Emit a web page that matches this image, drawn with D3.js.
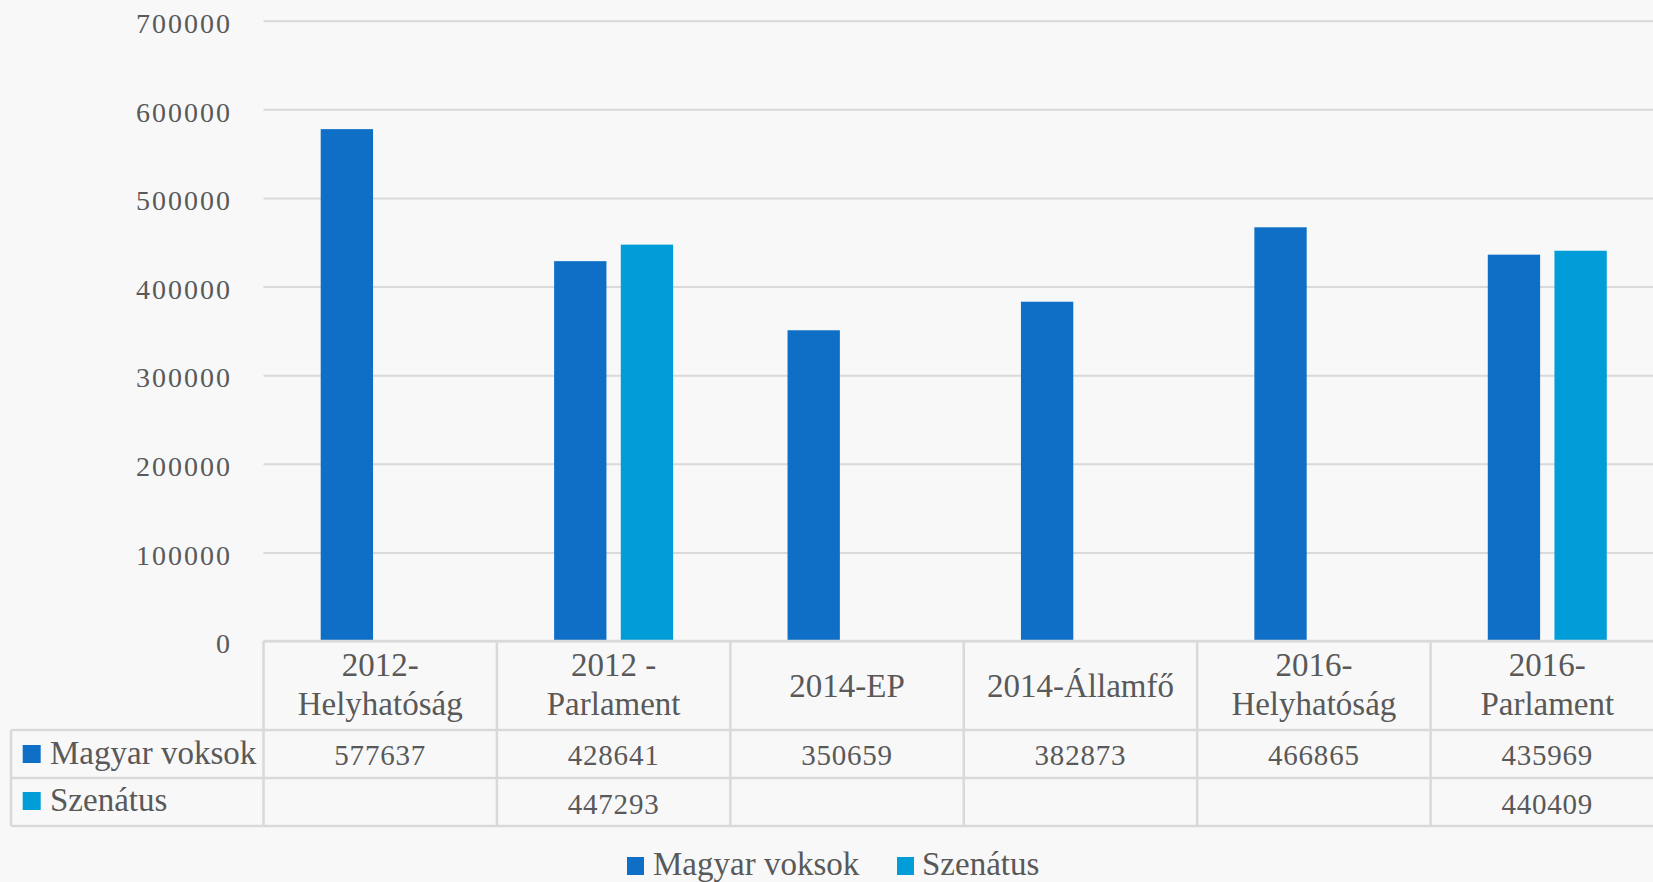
<!DOCTYPE html>
<html>
<head>
<meta charset="utf-8">
<script src="https://cdn.jsdelivr.net/npm/d3@7/dist/d3.min.js"></script>
<style>
  html, body { margin: 0; padding: 0; background: #f8f8f8; }
  svg { display: block; }
  text { font-family: "Liberation Serif", "DejaVu Serif", serif; fill: #595959; }
</style>
</head>
<body>
<svg id="chart" width="1653" height="882"></svg>
<script>
// ---- data ----
const categories = ["2012-\nHelyhatóság", "2012 -\nParlament", "2014-EP", "2014-Államfő", "2016-\nHelyhatóság", "2016-\nParlament"];
const seriesNames = ["Magyar voksok", "Szenátus"];
const magyarVoksok = [577637, 428641, 350659, 382873, 466865, 435969];
const szenatus = [null, 447293, null, null, null, 440409];
const yTicks = [0, 100000, 200000, 300000, 400000, 500000, 600000, 700000];
const colors = ["#0F6FC6", "#009DD9"];

const seriesValues = [magyarVoksok, szenatus];

const svg = d3.select("#chart");
const W = 1653, H = 882;

svg.append("rect").attr("width", W).attr("height", H).attr("fill", "#f8f8f8");

const plotLeft = 263.5, plotRight = 1664;
const yTop = 20.7, yBase = 641;

const x0 = d3.scaleBand().domain(categories).range([plotLeft, plotRight]).paddingInner(0).paddingOuter(0);
const x1 = d3.scaleBand().domain(seriesNames).range([57.2, 176.2]).paddingInner(0.215).paddingOuter(0);
const y = d3.scaleLinear().domain([0, 700000]).range([yBase, yTop]);
const color = d3.scaleOrdinal().domain(seriesNames).range(colors);

// gridlines
const grid = svg.append("g")
  .attr("transform", `translate(${plotLeft},0)`)
  .call(d3.axisLeft(y).tickValues(yTicks).tickSize(-(W - plotLeft)).tickFormat(""));
grid.select(".domain").remove();
grid.selectAll(".tick line").attr("stroke", "#d9d9d9").attr("stroke-width", 2);

// y axis labels
const yAxis = svg.append("g")
  .attr("transform", `translate(232,0)`)
  .call(d3.axisLeft(y).tickValues(yTicks).tickSize(0).tickPadding(0).tickFormat(d3.format("d")));
yAxis.select(".domain").remove();
yAxis.selectAll(".tick text")
  .attr("font-size", 28)
  .attr("letter-spacing", 2)
  .attr("dy", "0.42em")
  .attr("fill", "#595959")
  .style("font-family", "Liberation Serif, serif");

// bars
const rows = categories.map((c, i) => ({ cat: c, vals: seriesNames.map((s, j) => ({ s, v: seriesValues[j][i] })) }));
const groups = svg.append("g").selectAll("g").data(rows).join("g")
  .attr("transform", d => `translate(${x0(d.cat)},0)`);
groups.selectAll("rect").data(d => d.vals.filter(v => v.v != null)).join("rect")
  .attr("x", d => x1(d.s))
  .attr("width", x1.bandwidth())
  .attr("y", d => y(d.v))
  .attr("height", d => yBase - y(d.v))
  .attr("fill", d => color(d.s));

// data table
const tableLeft = 11;
const rowTops = [641, 730, 778, 826];
const lineColor = "#d9d9d9";
const tg = svg.append("g");
tg.append("line").attr("x1", plotLeft).attr("x2", W).attr("y1", rowTops[0]).attr("y2", rowTops[0]).attr("stroke", lineColor).attr("stroke-width", 2.5);
[1, 2, 3].forEach(k => {
  tg.append("line").attr("x1", tableLeft).attr("x2", W).attr("y1", rowTops[k]).attr("y2", rowTops[k]).attr("stroke", lineColor).attr("stroke-width", 2.5);
});
tg.append("line").attr("x1", tableLeft).attr("x2", tableLeft).attr("y1", rowTops[1]).attr("y2", rowTops[3]).attr("stroke", lineColor).attr("stroke-width", 2.5);
categories.forEach(c => {
  tg.append("line").attr("x1", x0(c)).attr("x2", x0(c)).attr("y1", rowTops[0]).attr("y2", rowTops[3]).attr("stroke", lineColor).attr("stroke-width", 2.5);
});

// header labels
categories.forEach(c => {
  const lines = c.split("\n");
  const cx = x0(c) + x0.bandwidth() / 2;
  const t = tg.append("text").attr("text-anchor", "middle").attr("font-size", 33);
  if (lines.length === 2) {
    t.append("tspan").attr("x", cx).attr("y", 676).text(lines[0]);
    t.append("tspan").attr("x", cx).attr("y", 715).text(lines[1]);
  } else {
    t.append("tspan").attr("x", cx).attr("y", 697).text(lines[0]);
  }
});

// series rows
const rowBaselines = [764, 811];
const valueBaselines = [765, 814];
seriesNames.forEach((s, j) => {
  tg.append("rect").attr("x", 22.7).attr("y", rowBaselines[j] - 19).attr("width", 18).attr("height", 18).attr("fill", colors[j]);
  tg.append("text").attr("x", 50).attr("y", rowBaselines[j]).attr("font-size", 33).text(s);
  categories.forEach((c, i) => {
    const v = seriesValues[j][i];
    if (v == null) return;
    tg.append("text").attr("x", x0(c) + x0.bandwidth() / 2).attr("y", valueBaselines[j])
      .attr("text-anchor", "middle").attr("font-size", 29).attr("letter-spacing", 0.8).text(v);
  });
});

// legend
const legend = svg.append("g");
const legendItems = [{ s: seriesNames[0], bx: 627, tx: 653 }, { s: seriesNames[1], bx: 897, tx: 922 }];
legendItems.forEach((d, j) => {
  legend.append("rect").attr("x", d.bx).attr("y", 857).attr("width", 17).attr("height", 18).attr("fill", colors[j]);
  legend.append("text").attr("x", d.tx).attr("y", 875).attr("font-size", 33).text(d.s);
});
</script>
</body>
</html>
